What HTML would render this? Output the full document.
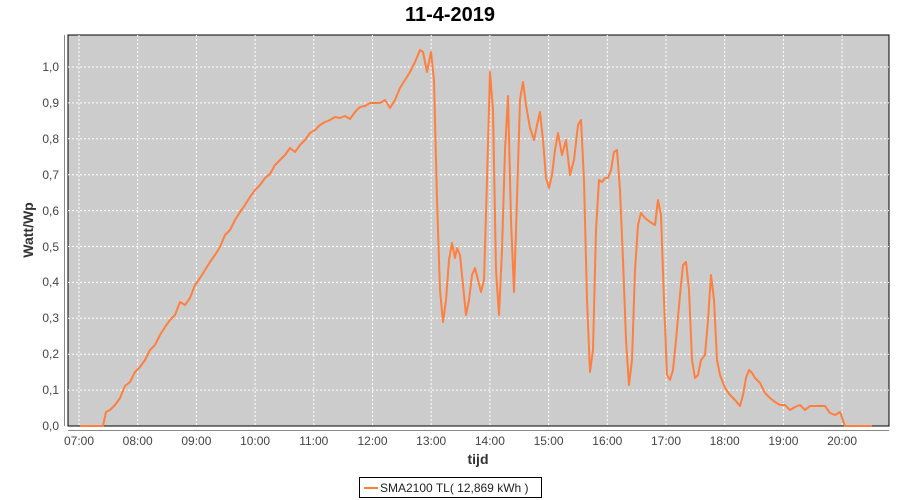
<!DOCTYPE html>
<html><head><meta charset="utf-8"><style>body{margin:0;background:#fff}svg{display:block;font-family:"Liberation Sans",sans-serif}</style></head><body>
<svg width="900" height="500" xmlns="http://www.w3.org/2000/svg">
<text x="450" y="21" text-anchor="middle" font-size="20" font-weight="bold">11-4-2019</text>
<rect x="68" y="35" width="821" height="391" fill="#cccccc" stroke="#000" stroke-width="1"/>
<g stroke="#fff" stroke-dasharray="2,2" stroke-width="1">
<line x1="68" x2="889" y1="390.1" y2="390.1"/><line x1="68" x2="889" y1="354.2" y2="354.2"/><line x1="68" x2="889" y1="318.3" y2="318.3"/><line x1="68" x2="889" y1="282.4" y2="282.4"/><line x1="68" x2="889" y1="246.5" y2="246.5"/><line x1="68" x2="889" y1="210.6" y2="210.6"/><line x1="68" x2="889" y1="174.7" y2="174.7"/><line x1="68" x2="889" y1="138.8" y2="138.8"/><line x1="68" x2="889" y1="102.9" y2="102.9"/><line x1="68" x2="889" y1="67" y2="67"/>
<line y1="35" y2="426" x1="79" x2="79"/><line y1="35" y2="426" x1="137.7" x2="137.7"/><line y1="35" y2="426" x1="196.4" x2="196.4"/><line y1="35" y2="426" x1="255.1" x2="255.1"/><line y1="35" y2="426" x1="313.8" x2="313.8"/><line y1="35" y2="426" x1="372.5" x2="372.5"/><line y1="35" y2="426" x1="431.2" x2="431.2"/><line y1="35" y2="426" x1="489.9" x2="489.9"/><line y1="35" y2="426" x1="548.6" x2="548.6"/><line y1="35" y2="426" x1="607.3" x2="607.3"/><line y1="35" y2="426" x1="666" x2="666"/><line y1="35" y2="426" x1="724.7" x2="724.7"/><line y1="35" y2="426" x1="783.4" x2="783.4"/><line y1="35" y2="426" x1="842.1" x2="842.1"/>
</g>
<g stroke="#888" stroke-width="1"><line x1="64.5" x2="64.5" y1="35" y2="426"/><line x1="68" x2="889" y1="430.5" y2="430.5"/></g>
<g font-size="12" fill="#444" text-anchor="end">
<text x="59" y="430">0,0</text><text x="59" y="394">0,1</text><text x="59" y="358">0,2</text><text x="59" y="322">0,3</text><text x="59" y="286">0,4</text><text x="59" y="251">0,5</text><text x="59" y="215">0,6</text><text x="59" y="179">0,7</text><text x="59" y="143">0,8</text><text x="59" y="107">0,9</text><text x="59" y="71">1,0</text>
</g>
<g font-size="12" fill="#444" text-anchor="middle">
<text x="79" y="445">07:00</text><text x="137.7" y="445">08:00</text><text x="196.4" y="445">09:00</text><text x="255.1" y="445">10:00</text><text x="313.8" y="445">11:00</text><text x="372.5" y="445">12:00</text><text x="431.2" y="445">13:00</text><text x="489.9" y="445">14:00</text><text x="548.6" y="445">15:00</text><text x="607.3" y="445">16:00</text><text x="666" y="445">17:00</text><text x="724.7" y="445">18:00</text><text x="783.4" y="445">19:00</text><text x="842.1" y="445">20:00</text>
</g>
<text x="478" y="464" text-anchor="middle" font-size="14" font-weight="bold" fill="#333">tijd</text>
<text transform="translate(33,230) rotate(-90)" text-anchor="middle" font-size="14" font-weight="bold" fill="#333">Watt/Wp</text>
<polyline fill="none" stroke="#ff7f3f" stroke-width="2" stroke-linejoin="round" points="80,426 103,426 106,412 110,410 115,405 120,398 125,386 130,382 135,372 140,367 145,360 150,350 155,345 160,335 165,327 170,320 175,315 180,302 185,305 190,298 195,285 200,278 205,270 210,262 215,255 220,247 225,235 230,230 235,220 240,212 245,205 250,197 255,190 260,185 265,178 270,174 275,165 280,160 285,155 290,148 295,152 300,145 305,140 310,133 315,130 320,125 325,122 330,120 335,117 340,118 345,116 350,119 355,112 360,107 365,106 370,103 375,103 380,103 385,100 390,108 395,100 400,88 405,80 410,72 415,62 420,50 423,52 427,72 431,52 434,80 437,200 440,290 443,322 446,300 449,260 452,243 455,258 457,248 460,255 463,285 466,315 469,300 472,275 475,268 478,280 481,292 484,280 487,180 490,72 493,110 496,270 499,315 502,250 505,150 508,96 511,220 514,292 517,200 520,100 523,82 526,105 530,128 534,140 537,125 540,112 543,140 546,178 549,188 552,175 555,150 558,133 562,155 566,140 570,175 574,160 578,125 581,120 584,180 587,300 590,372 593,350 596,230 599,180 602,182 605,178 608,178 611,170 614,152 617,150 620,190 623,260 626,340 629,385 632,360 635,270 638,225 641,213 645,218 650,222 655,225 658,200 661,215 664,300 667,375 670,380 673,370 676,340 680,295 683,265 686,262 689,290 692,360 695,378 698,375 701,360 705,355 708,320 711,275 714,300 717,360 720,375 725,388 730,395 735,400 740,406 743,395 746,378 749,370 752,373 755,378 760,383 765,393 770,398 775,402 780,405 785,405 790,410 795,407 800,405 805,410 810,406 815,406 820,406 825,406 830,413 835,415 840,412 845,426 872,426"/>
<rect x="359.5" y="477.5" width="182" height="20" fill="#fff" stroke="#000"/>
<line x1="364" x2="378" y1="488" y2="488" stroke="#ff7f3f" stroke-width="2"/>
<text x="380" y="492" font-size="12" fill="#222">SMA2100 TL( 12,869 kWh )</text>
</svg>
</body></html>
